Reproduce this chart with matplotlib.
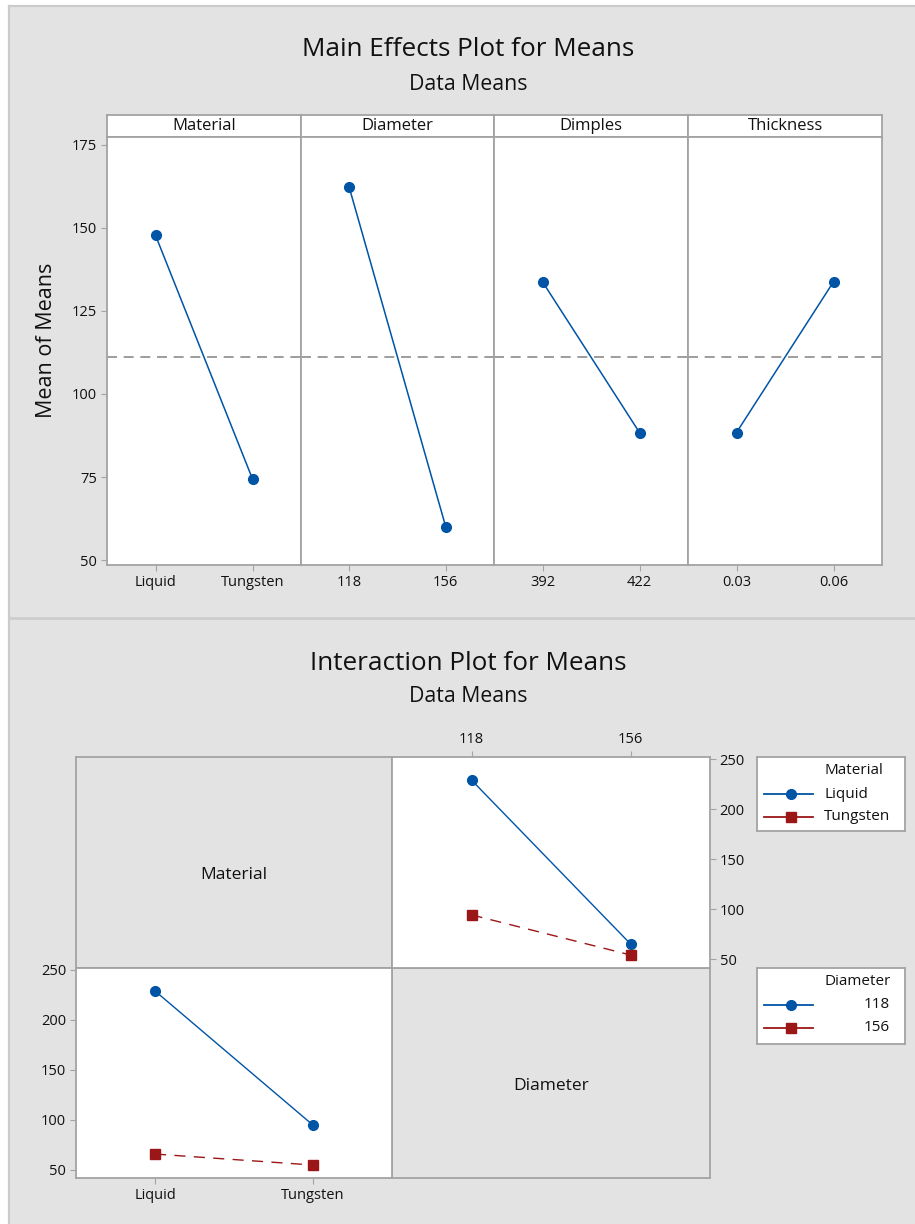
import numpy as np
import matplotlib
matplotlib.use('Agg')
import matplotlib.pyplot as plt
from matplotlib.patches import Rectangle
from matplotlib.lines import Line2D

plt.rcParams['font.family'] = ['Open Sans', 'DejaVu Sans']

# --- data ---
factors = ['Material', 'Diameter', 'Dimples', 'Thickness']
levels = [['Liquid', 'Tungsten'], ['118', '156'], ['392', '422'], ['0.03', '0.06']]
main_means = [[147.8, 74.4], [162.2, 60.0], [133.8, 88.4], [88.4, 133.8]]
grand_mean = 111.1

material_levels = ['Liquid', 'Tungsten']
diameter_levels = ['118', '156']
# cell means: rows = material, cols = diameter
cell_means = [[229.0, 65.5],
              [94.5, 54.5]]

me_yticks = [50, 75, 100, 125, 150, 175]
ip_yticks = [50, 100, 150, 200, 250]

# --- style ---
W, H = 915, 1224
BG = '#e3e3e3'
FRAME = '#a3a3a3'
BLUE = '#0054a6'
RED = '#9b1616'
TXT = '#111111'
TICK_FS = 10.5


def rect(x0, y0, x1, y1):
    return [x0 / W, 1 - y1 / H, (x1 - x0) / W, (y1 - y0) / H]


def frame(ax, color=FRAME, lw=1.3):
    for s in ax.spines.values():
        s.set_color(color)
        s.set_linewidth(lw)


fig = plt.figure(figsize=(W / 100, H / 100), dpi=100)
fig.patch.set_facecolor('white')
fig.add_artist(Rectangle((9 / W, 0), 1, 1 - 6 / H, transform=fig.transFigure,
                         facecolor=BG, edgecolor='none', zorder=-10))
fig.add_artist(Line2D([9 / W, 9 / W], [0, 1 - 6 / H], transform=fig.transFigure,
                      color='#cbcbcb', lw=1.6))
fig.add_artist(Line2D([9 / W, 1], [1 - 6 / H, 1 - 6 / H], transform=fig.transFigure,
                      color='#cbcbcb', lw=1.6))
fig.add_artist(Line2D([9 / W, 1], [1 - 618 / H, 1 - 618 / H], transform=fig.transFigure,
                      color='#cdcdcd', lw=2.0))

# ================= Main effects =================
fig.text(468 / W, 1 - 50 / H, 'Main Effects Plot for Means', ha='center', va='center',
         fontsize=18.8, color=TXT)
fig.text(468 / W, 1 - 85 / H, 'Data Means', ha='center', va='center', fontsize=15.3, color=TXT)

edges = [107, 301, 494, 688, 882]
for i, f in enumerate(factors):
    x0, x1 = edges[i], edges[i + 1]
    hax = fig.add_axes(rect(x0, 115, x1, 137))
    hax.set_facecolor('white')
    hax.set_xticks([])
    hax.set_yticks([])
    frame(hax)
    hax.text(0.5, 0.5, f, ha='center', va='center', fontsize=12, color=TXT,
             transform=hax.transAxes)

    ax = fig.add_axes(rect(x0, 137, x1, 565))
    ax.set_facecolor('white')
    frame(ax)
    ax.axhline(grand_mean, color='#8c8c8c', lw=1.2, ls=(0, (6, 4)), zorder=1)
    ax.plot([0, 1], main_means[i], color=BLUE, lw=1.1, marker='o', ms=7, zorder=3)
    ax.set_xlim(-0.5, 1.5)
    ax.set_ylim(48.5, 177.4)
    ax.set_xticks([0, 1])
    ax.set_xticklabels(levels[i])
    ax.tick_params(axis='x', length=4, color=FRAME, labelsize=TICK_FS, labelcolor=TXT, pad=3)
    if i == 0:
        ax.set_yticks(me_yticks)
        ax.tick_params(axis='y', length=4, color=FRAME, labelsize=TICK_FS, labelcolor=TXT, pad=3)
        ax.set_ylabel('Mean of Means', fontsize=15.5, color=TXT)
        ax.yaxis.set_label_coords((57 - 107) / 194, (565 - 340) / 428)
    else:
        ax.set_yticks([])

# ================= Interaction =================
fig.text(468 / W, 1 - 663 / H, 'Interaction Plot for Means', ha='center', va='center',
         fontsize=18.8, color=TXT)
fig.text(468 / W, 1 - 697 / H, 'Data Means', ha='center', va='center', fontsize=15.3, color=TXT)

cm = np.array(cell_means)
ylim_ip = (41.5, 252)

# upper-left label cell
ax_ul = fig.add_axes(rect(76, 757, 392, 968))
ax_ul.set_facecolor(BG)
ax_ul.set_xticks([])
ax_ul.set_yticks([])
frame(ax_ul)
ax_ul.text(0.5, 0.44, 'Material', ha='center', va='center', fontsize=12.5, color=TXT,
           transform=ax_ul.transAxes)

# lower-right label cell
ax_lr = fig.add_axes(rect(392, 968, 710, 1178))
ax_lr.set_facecolor(BG)
ax_lr.set_xticks([])
ax_lr.set_yticks([])
frame(ax_lr)
ax_lr.text(0.5, 0.44, 'Diameter', ha='center', va='center', fontsize=12.5, color=TXT,
           transform=ax_lr.transAxes)

# upper-right: x = Diameter, lines by Material
ax_ur = fig.add_axes(rect(392, 757, 710, 968))
ax_ur.set_facecolor('white')
frame(ax_ur)
ax_ur.plot([0, 1], cm[0, :], color=BLUE, lw=1.0, marker='o', ms=7, zorder=3)
ax_ur.plot([0, 1], cm[1, :], color=RED, lw=1.0, ls=(0, (8, 6)), marker='s', ms=7, zorder=3)
ax_ur.set_xlim(-0.5, 1.5)
ax_ur.set_ylim(*ylim_ip)
ax_ur.set_xticks([0, 1])
ax_ur.set_xticklabels(diameter_levels)
ax_ur.xaxis.tick_top()
ax_ur.yaxis.tick_right()
ax_ur.set_yticks(ip_yticks)
ax_ur.tick_params(length=4, color=FRAME, labelsize=TICK_FS, labelcolor=TXT, pad=3)

# lower-left: x = Material, lines by Diameter
ax_ll = fig.add_axes(rect(76, 968, 392, 1178))
ax_ll.set_facecolor('white')
frame(ax_ll)
ax_ll.plot([0, 1], cm[:, 0], color=BLUE, lw=1.0, marker='o', ms=7, zorder=3)
ax_ll.plot([0, 1], cm[:, 1], color=RED, lw=1.0, ls=(0, (8, 6)), marker='s', ms=7, zorder=3)
ax_ll.set_xlim(-0.5, 1.5)
ax_ll.set_ylim(*ylim_ip)
ax_ll.set_xticks([0, 1])
ax_ll.set_xticklabels(material_levels)
ax_ll.set_yticks(ip_yticks)
ax_ll.tick_params(length=4, color=FRAME, labelsize=TICK_FS, labelcolor=TXT, pad=3)


# legends drawn as small boxes
def legend_box(box, title, labels, right_align):
    lax = fig.add_axes(rect(*box))
    lax.set_facecolor('white')
    lax.set_xlim(box[0], box[2])
    lax.set_ylim(box[3], box[1])
    lax.set_xticks([])
    lax.set_yticks([])
    frame(lax, lw=1.3)
    y0 = box[1]
    lax.text(824, y0 + 14, title, ha='left', va='center', fontsize=11, color=TXT)
    styles = [(BLUE, '-', 'o'), (RED, '-', 's')]
    for k, lab in enumerate(labels):
        yy = y0 + 37 + 23 * k
        c, ls, mk = styles[k]
        lax.plot([764, 813], [yy, yy], color=c, lw=1.3, ls=ls)
        lax.plot([791], [yy], color=c, marker=mk, ms=7)
        if right_align:
            lax.text(890, yy, lab, ha='right', va='center', fontsize=11, color=TXT)
        else:
            lax.text(824, yy, lab, ha='left', va='center', fontsize=11, color=TXT)


legend_box((757, 757, 905, 831), 'Material', material_levels, False)
legend_box((757, 968, 905, 1044), 'Diameter', diameter_levels, True)

fig.savefig('out.png', dpi=100, facecolor=fig.get_facecolor())
